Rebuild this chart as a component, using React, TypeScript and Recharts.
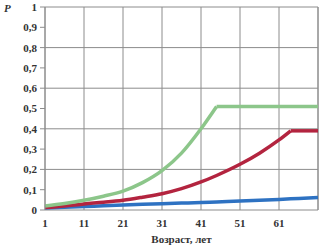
import { LineChart, Line, XAxis, YAxis, CartesianGrid, ReferenceLine } from 'recharts';

const ages = [1, 6, 11, 16, 21, 26, 31, 36, 41, 45, 51, 56, 61, 64, 71];
// rising parts (null once the curve has levelled off)
const greenRise = [0.02, 0.032, 0.048, 0.068, 0.093, 0.135, 0.194, 0.28, 0.4, 0.51, null, null, null, null, null];
const greenFlat = [null, null, null, null, null, null, null, null, null, 0.51, 0.51, 0.51, 0.51, 0.51, 0.51];
const redRise = [0.012, 0.02, 0.03, 0.038, 0.048, 0.063, 0.08, 0.105, 0.138, 0.17, 0.225, 0.28, 0.345, 0.39, null];
const redFlat = [null, null, null, null, null, null, null, null, null, null, null, null, null, 0.39, 0.39];
const blueP = [0.01, 0.013, 0.017, 0.021, 0.025, 0.028, 0.031, 0.034, 0.037, 0.04, 0.044, 0.048, 0.052, 0.055, 0.062];

const xTicks = [1, 11, 21, 31, 41, 51, 61];
const yTicks = [0, 0.1, 0.2, 0.3, 0.4, 0.5, 0.6, 0.7, 0.8, 0.9, 1];

const data = ages.map((age, i) => ({
  age,
  greenRise: greenRise[i],
  greenFlat: greenFlat[i],
  redRise: redRise[i],
  redFlat: redFlat[i],
  blue: blueP[i],
}));

const gridColor = '#8c8c8c';
const green = '#8cc68a';
const red = '#b3243f';
const blue = '#2e72c2';
const tickStyle = { fontSize: 11, fontWeight: 700, fill: '#333', fontFamily: '"Liberation Serif", "DejaVu Serif", serif' };

export default function App() {
  return (
    <div style={{ position: 'fixed', left: 0, top: 0, width: 323, height: 248, background: '#fff' }}>
      <LineChart width={323} height={248} data={data} margin={{ top: 7, right: 5, bottom: 0, left: 0 }}>
        <CartesianGrid stroke={gridColor} strokeWidth={1} />
        <XAxis
          dataKey="age"
          type="number"
          domain={[1, 71]}
          ticks={xTicks}
          height={38}
          tickSize={0}
          tickMargin={9}
          axisLine={false}
          tick={tickStyle}
          label={{
            value: 'Возраст, лет',
            position: 'insideBottom',
            offset: 5,
            style: tickStyle,
          }}
        />
        <YAxis
          type="number"
          domain={[0, 1]}
          ticks={yTicks}
          width={45}
          tickSize={5}
          tickMargin={3}
          axisLine={{ stroke: gridColor }}
          tickLine={{ stroke: gridColor }}
          tick={tickStyle}
          tickFormatter={(v: number) => String(v).replace('.', ',')}
          label={{
            content: () => (
              <text x={4} y={12} style={{ ...tickStyle, fontStyle: 'italic' }}>
                P
              </text>
            ),
          }}
        />
        <ReferenceLine x={71} stroke={gridColor} />
        <Line type="monotone" dataKey="blue" stroke={blue} strokeWidth={3.5} dot={false} isAnimationActive={false} />
        <Line type="monotone" dataKey="redRise" stroke={red} strokeWidth={3.5} dot={false} isAnimationActive={false} />
        <Line type="linear" dataKey="redFlat" stroke={red} strokeWidth={3.5} dot={false} isAnimationActive={false} />
        <Line type="monotone" dataKey="greenRise" stroke={green} strokeWidth={3.5} dot={false} isAnimationActive={false} />
        <Line type="linear" dataKey="greenFlat" stroke={green} strokeWidth={3.5} dot={false} isAnimationActive={false} />
      </LineChart>
    </div>
  );
}
